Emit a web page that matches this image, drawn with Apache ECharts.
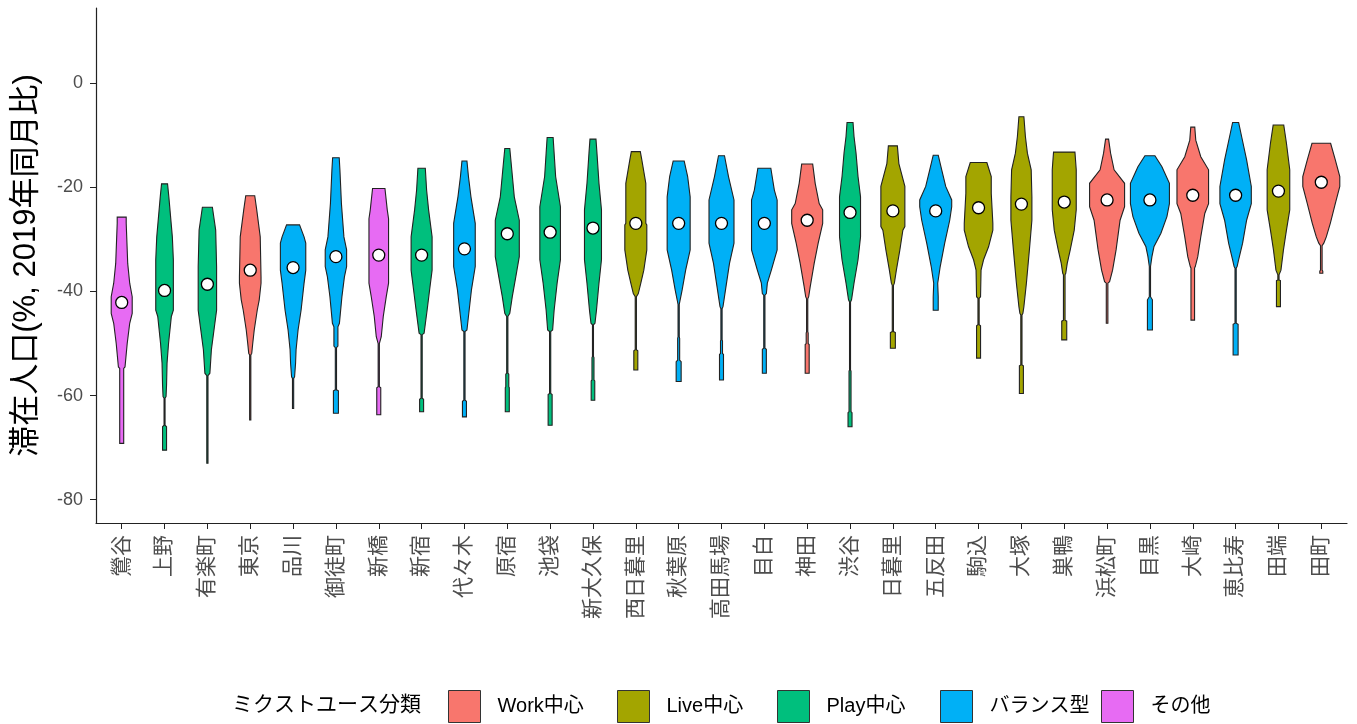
<!DOCTYPE html>
<html><head><meta charset="utf-8">
<script src="https://cdn.jsdelivr.net/npm/echarts@6/dist/echarts.min.js"></script>
<style>html,body{margin:0;padding:0;background:#fff}#chart{width:1357px;height:724px}</style>
</head><body><div id="chart"></div>
<script>
// ---------- data ----------
const stations = ['鶯谷','上野','有楽町','東京','品川','御徒町','新橋','新宿','代々木','原宿','池袋','新大久保','西日暮里','秋葉原','高田馬場','目白','神田','渋谷','日暮里','五反田','駒込','大塚','巣鴨','浜松町','目黒','大崎','恵比寿','田端','田町'];
const groupNames = ['Work中心','Live中心','Play中心','バランス型','その他'];
// group index per station (0 Work, 1 Live, 2 Play, 3 バランス型, 4 その他)
const stationGroups = [4,2,2,0,3,3,4,2,3,2,2,2,1,3,3,3,0,2,1,3,1,1,1,0,3,0,3,1,0];
const medians = [-42.1,-39.8,-38.6,-35.9,-35.4,-33.3,-33.0,-33.0,-31.8,-28.9,-28.6,-27.8,-26.9,-26.9,-26.9,-26.9,-26.3,-24.8,-24.5,-24.5,-23.9,-23.2,-22.8,-22.4,-22.4,-21.5,-21.5,-20.7,-19.0];
// violin density profiles: [value, relative half-width] from top to bottom
const violinProfiles = [
  [[-25.7,4.5],[-26.9,4.5],[-32.0,5.5],[-34.6,6],[-38.4,8],[-41.0,10.5],[-44.2,10.5],[-46.1,8],[-50.0,5.5],[-54.5,3.3],[-54.8,2],[-69.2,2]],
  [[-19.3,3],[-21.8,4.3],[-29.5,7.8],[-33.9,8.8],[-43.6,8.8],[-44.8,6.8],[-50.0,4],[-53.8,2.5],[-58.0,2],[-60.2,1.5],[-60.5,0.5],[-65.7,0.5],[-66.0,2],[-70.5,2]],
  [[-23.8,5],[-28.2,8.3],[-35.2,9.2],[-43.6,9.2],[-46.8,7],[-51.2,4],[-55.7,2.5],[-56.2,0.6],[-73.0,0.6]],
  [[-21.6,4.5],[-24.3,6.5],[-29.5,10],[-37.2,10.8],[-38.4,10.8],[-41.6,9],[-43.6,7],[-47.4,4],[-50.0,2.5],[-51.9,1.5],[-52.2,0.6],[-64.7,0.6]],
  [[-27.2,6.5],[-29.5,11],[-30.7,12.7],[-35.9,12.7],[-38.4,11],[-43.6,8],[-47.4,5],[-51.2,3],[-53.8,2.5],[-56.4,1.5],[-56.7,0.6],[-62.5,0.6]],
  [[-14.3,3.3],[-16.6,4],[-23.1,5.5],[-29.5,8],[-32.0,10.7],[-35.2,10.7],[-37.2,8.5],[-41.0,6],[-46.1,3.5],[-46.8,2],[-50.5,2],[-50.8,0.6],[-58.9,0.6],[-59.1,2.5],[-63.4,2.5]],
  [[-20.2,6.2],[-24.3,8.5],[-26.0,9.8],[-38.4,9.8],[-41.0,7.5],[-44.8,4.5],[-48.7,2.5],[-50.0,0.6],[-58.3,0.6],[-58.5,2],[-63.7,2]],
  [[-16.3,3.7],[-20.5,5],[-24.3,7],[-29.5,10.5],[-35.9,10.5],[-39.7,8],[-43.6,5.5],[-48.0,2.5],[-48.3,0.6],[-60.5,0.6],[-60.7,2],[-63.1,2]],
  [[-14.9,2.5],[-17.9,4],[-21.8,6.5],[-26.9,10.8],[-35.2,10.8],[-39.7,7],[-44.8,4],[-47.4,2.5],[-47.7,0.6],[-60.9,0.6],[-61.1,2],[-64.1,2]],
  [[-12.5,2.5],[-16.6,4.5],[-21.8,7],[-26.3,12],[-33.3,12],[-37.2,8.5],[-41.0,5],[-44.2,2.5],[-44.8,0.6],[-55.7,0.6],[-55.9,1.5],[-58.3,1.5],[-58.5,2],[-63.1,2]],
  [[-10.4,3],[-13.4,4],[-17.9,5.5],[-23.7,10.3],[-33.9,10.3],[-38.4,7],[-43.6,4],[-47.4,2.5],[-47.7,0.6],[-59.6,0.6],[-59.8,2],[-65.7,2]],
  [[-10.7,3],[-13.4,4],[-19.2,6],[-24.3,8.5],[-33.9,8.5],[-38.4,6],[-43.6,3.5],[-46.1,2],[-46.4,0.5],[-52.5,0.5],[-52.7,1],[-57.0,1],[-57.2,1.8],[-60.9,1.8]],
  [[-13.1,4.5],[-14.7,6],[-19.2,10],[-26.9,10],[-27.2,11],[-32.0,11],[-35.9,8],[-38.4,5],[-40.4,2.5],[-41.0,0.6],[-51.2,0.6],[-51.4,2],[-55.1,2]],
  [[-14.9,5.5],[-17.9,9],[-21.8,11.5],[-32.0,11.5],[-35.9,7],[-39.7,3.5],[-41.6,1.5],[-42.5,0.6],[-48.7,0.6],[-49.0,1],[-53.2,1],[-53.5,2.5],[-57.3,2.5]],
  [[-13.9,3],[-17.9,7],[-22.4,12.5],[-30.7,12.5],[-34.6,8],[-39.7,4],[-42.9,1.5],[-43.3,0.6],[-49.3,0.6],[-49.5,1],[-51.9,1],[-52.1,2],[-57.0,2]],
  [[-16.3,6.5],[-20.5,10],[-22.4,12.8],[-32.0,12.8],[-35.9,7],[-38.4,3],[-40.4,2],[-40.7,0.6],[-50.9,0.6],[-51.1,2],[-55.7,2]],
  [[-15.5,5.5],[-19.2,8],[-23.1,12],[-24.3,15.5],[-26.9,15.5],[-30.7,11],[-34.6,7],[-39.1,3],[-41.0,1.5],[-41.4,0.6],[-47.7,0.6],[-48.0,1],[-50.0,1],[-50.2,2],[-55.7,2]],
  [[-7.5,3],[-10.2,4],[-13.4,6],[-17.9,8],[-21.8,10.5],[-29.5,10.5],[-33.9,8],[-38.4,4],[-41.6,1.5],[-42.0,0.5],[-55.1,0.5],[-55.3,1],[-63.1,1],[-63.3,2],[-66.0,2]],
  [[-12.0,4.5],[-15.4,6],[-19.8,12],[-27.5,12],[-28.2,10],[-32.0,7],[-35.9,3.5],[-38.4,1.5],[-38.8,0.6],[-47.7,0.6],[-47.9,2.5],[-50.9,2.5]],
  [[-13.8,2.5],[-16.6,6],[-19.8,10],[-22.4,16],[-23.7,16],[-26.3,14],[-30.7,9],[-35.2,4.5],[-38.4,2],[-41.0,2.5],[-43.6,2.5]],
  [[-15.2,8.3],[-17.9,12.7],[-21.1,12.7],[-26.9,14.3],[-28.2,14.3],[-31.4,10],[-33.9,5],[-35.9,2.5],[-41.0,2],[-41.3,0.6],[-46.4,0.6],[-46.6,2],[-52.8,2]],
  [[-6.4,2.5],[-10.2,4],[-13.4,6],[-16.6,9.8],[-21.8,10.5],[-26.3,10.5],[-32.0,8],[-38.4,5],[-42.9,2.5],[-44.2,1.5],[-44.5,0.6],[-54.1,0.6],[-54.3,2],[-59.6,2]],
  [[-13.2,10.7],[-16.6,12],[-24.3,12],[-28.2,10],[-32.0,6],[-34.6,3],[-36.5,1.5],[-36.8,0.8],[-45.5,0.8],[-45.7,2.5],[-49.3,2.5]],
  [[-10.7,1.5],[-13.4,3.5],[-16.6,7],[-19.2,17.5],[-23.7,17.5],[-26.3,13],[-32.0,9],[-35.9,5.5],[-38.1,2.5],[-38.4,0.8],[-46.1,0.8]],
  [[-13.9,5],[-16.0,12],[-19.2,19.5],[-23.1,19.5],[-25.6,17],[-28.8,11],[-31.4,4],[-33.3,2],[-35.2,0.6],[-41.0,0.6],[-41.6,2.5],[-47.4,2.5]],
  [[-8.4,2],[-10.9,3],[-14.1,8],[-16.6,15.8],[-23.1,15.8],[-25.0,12],[-29.5,8],[-33.3,5],[-35.2,2.5],[-35.5,1.8],[-45.5,1.8]],
  [[-7.5,3],[-10.2,6],[-14.7,11],[-19.8,15.7],[-23.1,15.7],[-26.3,11],[-30.7,7],[-33.9,3],[-35.2,1.5],[-35.5,0.6],[-46.1,0.6],[-46.3,2.5],[-52.2,2.5]],
  [[-8.0,5.3],[-11.5,8],[-16.6,11.3],[-24.3,11.3],[-28.2,8],[-32.0,5],[-35.9,2.5],[-36.8,0.6],[-37.8,0.6],[-37.9,2],[-42.9,2]],
  [[-11.5,9.3],[-14.7,14],[-17.9,18.5],[-19.8,18.5],[-23.1,14],[-26.9,9],[-29.5,5],[-30.7,2.5],[-31.2,0.8],[-35.9,0.8],[-36.1,1.5],[-36.5,1.5]]
];
const yTicks = [-80,-60,-40,-20,0];
const yTitle = '滞在人口(%, 2019年同月比)';
const legendTitle = 'ミクストユース分類';

// ---------- styles ----------
const groupColors = ['#F8766D','#A3A500','#00BF7D','#00B0F6','#E76BF3'];
const legendLefts = [448, 617, 777, 940, 1101];
const WIDTH_REF = 42.84; // profile half-widths are relative to this band size
const FONT = '"Liberation Sans", "Noto Sans CJK JP", sans-serif';
const positions = stations.map((s, i) => i + 1);

const chart = echarts.init(document.getElementById('chart'), null, {renderer: 'canvas'});

function renderViolin(params, api) {
  const pos = api.value(0);
  const prof = violinProfiles[pos - 1];
  const k = api.size([1, 0])[0] / WIDTH_REF;
  const right = [], left = [];
  prof.forEach(([v, w]) => {
    const p = api.coord([pos, v]);
    right.push([p[0] + w * k, p[1]]);
    left.push([p[0] - w * k, p[1]]);
  });
  return {
    type: 'polygon',
    shape: {points: right.concat(left.reverse())},
    style: {fill: api.visual('color'), stroke: '#222', lineWidth: 1.1}
  };
}

const violinSeries = groupNames.map((g, gi) => ({
  name: g,
  type: 'custom',
  color: groupColors[gi],
  renderItem: renderViolin,
  encode: {x: 0, y: 1},
  data: positions.filter((p, i) => stationGroups[i] === gi).map(p => [p, medians[p - 1]]),
  z: 2
}));

const option = {
  animation: false,
  backgroundColor: '#fff',
  textStyle: {fontFamily: FONT},
  grid: {left: 96, right: 10, top: 8, bottom: 201},
  xAxis: {
    type: 'value', min: 0.4, max: 29.6,
    axisLine: {show: true, onZero: false, lineStyle: {color: '#222', width: 1.2}},
    axisTick: {show: true, customValues: positions, length: 6, lineStyle: {color: '#222'}},
    axisLabel: {customValues: positions, formatter: v => stations[Math.round(v) - 1],
      rotate: 90, fontSize: 21, color: '#4D4D4D', margin: 12, fontFamily: FONT},
    splitLine: {show: false}
  },
  yAxis: {
    type: 'value', min: -84.5, max: 14.5,
    name: yTitle, nameLocation: 'middle', nameRotate: 90, nameGap: 54,
    nameTextStyle: {fontSize: 31, color: '#000', fontFamily: FONT},
    axisLine: {show: true, onZero: false, lineStyle: {color: '#222', width: 1.2}},
    axisTick: {show: true, customValues: yTicks, length: 6, lineStyle: {color: '#222'}},
    axisLabel: {customValues: yTicks, fontSize: 18, color: '#4D4D4D', margin: 13, fontFamily: FONT},
    splitLine: {show: false}
  },
  legend: groupNames.map((g, i) => ({
    data: [g], left: legendLefts[i], top: 690, padding: 0,
    itemWidth: 32, itemHeight: 32, icon: 'rect', selectedMode: false,
    itemStyle: {borderColor: '#333', borderWidth: 1},
    textStyle: {fontSize: 20, color: '#000', fontFamily: FONT, padding: [0, 0, 0, 12]}
  })),
  graphic: [{
    type: 'text', left: 232, top: 695,
    style: {text: legendTitle, font: '21px ' + FONT, fill: '#000'}
  }],
  series: violinSeries.concat([{
    type: 'scatter',
    data: positions.map((p, i) => [p, medians[i]]),
    symbol: 'circle', symbolSize: 12,
    itemStyle: {color: '#fff', borderColor: '#000', borderWidth: 1.3, opacity: 1},
    z: 5, silent: true
  }])
};
chart.setOption(option);
</script>
</body></html>
